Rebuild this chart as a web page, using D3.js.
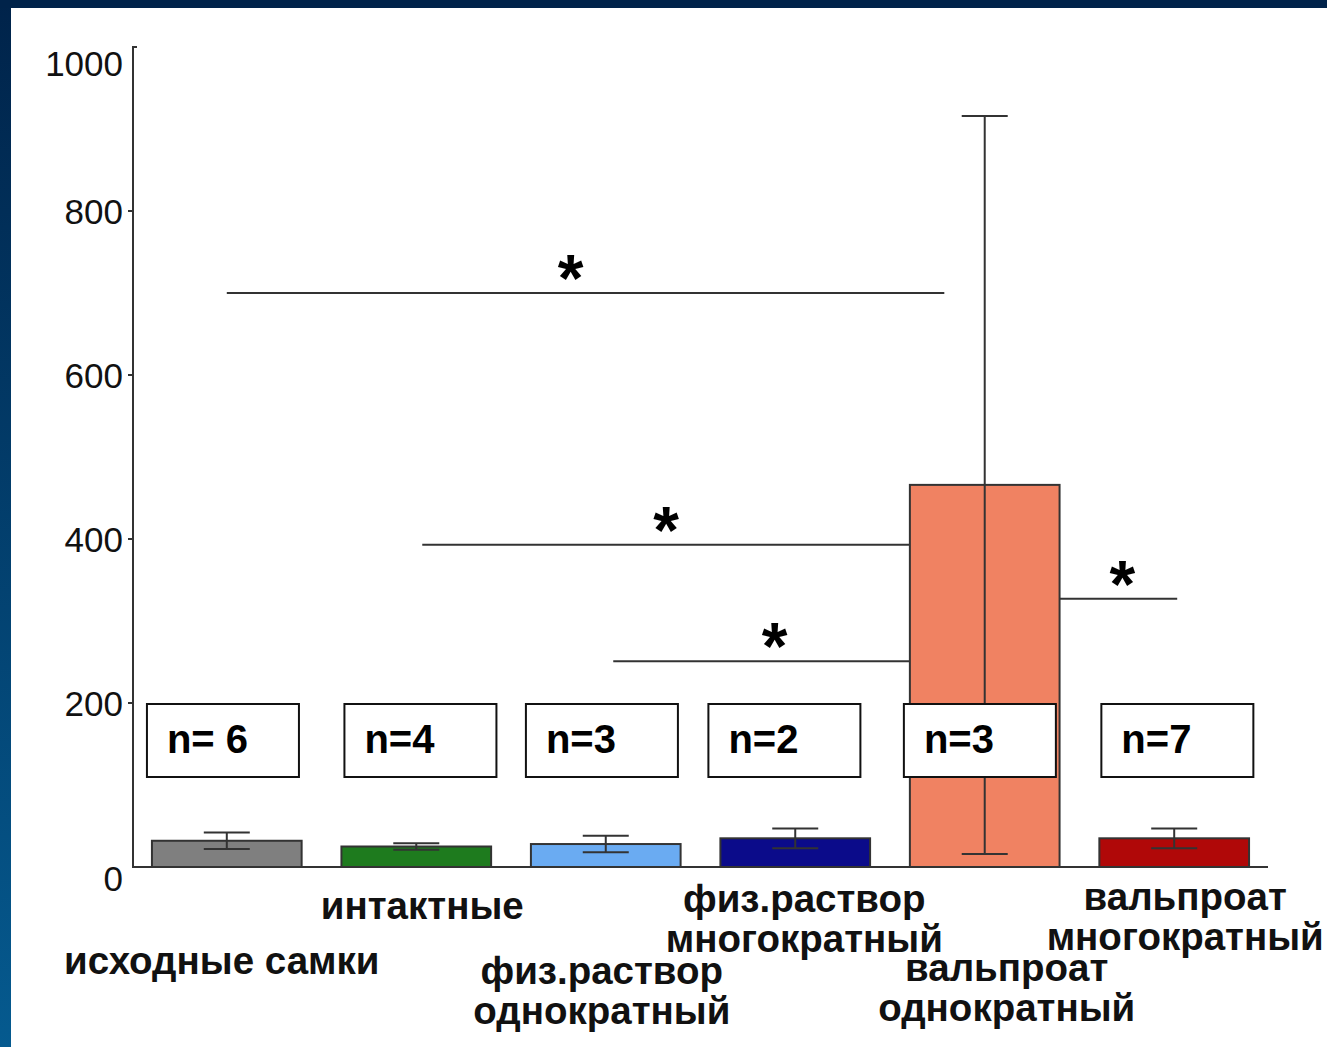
<!DOCTYPE html>
<html><head><meta charset="utf-8">
<script src="https://cdn.jsdelivr.net/npm/d3@7"></script>
<style>html,body{margin:0;padding:0;overflow:hidden;background:#fff}</style>
</head><body><svg id="c" width="1327" height="1047"></svg>
<script>
// ---- data ----
const categories = ["исходные самки", "интактные", "физ.раствор однократный", "физ.раствор многократный", "вальпроат однократный", "вальпроат многократный"];
const categoryLines = [["исходные самки"], ["интактные"], ["физ.раствор", "однократный"], ["физ.раствор", "многократный"], ["вальпроат", "однократный"], ["вальпроат", "многократный"]];
const means = [32, 25, 28, 35, 466, 35];
const errors = [10, 4, 10, 12, 450, 12];
const sampleSizes = ["n= 6", "n=4", "n=3", "n=2", "n=3", "n=7"];
const barColors = ["#7f7f7f", "#1e7b1e", "#6aabf2", "#0b0b8a", "#f08262", "#b00808"];
const yTicks = [0, 200, 400, 600, 800, 1000];
const sigFrom = ["исходные самки", "интактные", "физ.раствор однократный", "вальпроат однократный"];
const sigTo = ["вальпроат однократный", "вальпроат однократный", "вальпроат однократный", "вальпроат многократный"];
const sigValues = [700, 393, 251, 327];
const sigMark = ["*", "*", "*", "*"];

// ---- layout ----
const W = 1327, H = 1047;
const svg = d3.select("#c");
const defs = svg.append("defs");
const lg = defs.append("linearGradient").attr("id", "side").attr("x1", 0).attr("y1", 0).attr("x2", 0).attr("y2", 1);
lg.append("stop").attr("offset", "0%").attr("stop-color", "#00234a");
lg.append("stop").attr("offset", "100%").attr("stop-color", "#055a8f");
svg.append("rect").attr("x", 0).attr("y", 0).attr("width", W).attr("height", H).attr("fill", "url(#side)");
svg.append("rect").attr("x", 0).attr("y", 0).attr("width", W).attr("height", 8).attr("fill", "#00234a");
svg.append("rect").attr("x", 11).attr("y", 8).attr("width", W - 11).attr("height", H - 8).attr("fill", "#ffffff");

const x = d3.scaleBand().domain(categories).range([133, 1268]).paddingInner(0.21).paddingOuter(0.1);
const y = d3.scaleLinear().domain([0, 1000]).range([867, 47]);
const bw = x.bandwidth();
const axisColor = "#333";
const font = "'Liberation Sans', Arial, sans-serif";

// bars
svg.append("g").selectAll("rect").data(categories).join("rect")
  .attr("x", d => x(d)).attr("y", (d, i) => y(means[i]))
  .attr("width", bw).attr("height", (d, i) => y(0) - y(means[i]))
  .attr("fill", (d, i) => barColors[i]).attr("stroke", "#333").attr("stroke-width", 2);

// error bars
const eb = svg.append("g").attr("stroke", "#333").attr("stroke-width", 2);
categories.forEach((c, i) => {
  const cx = x(c) + bw / 2;
  eb.append("line").attr("x1", cx).attr("x2", cx).attr("y1", y(means[i] + errors[i])).attr("y2", y(means[i] - errors[i]));
  [means[i] + errors[i], means[i] - errors[i]].forEach(v => {
    eb.append("line").attr("x1", cx - 23).attr("x2", cx + 23).attr("y1", y(v)).attr("y2", y(v));
  });
});

// axes
const ax = svg.append("g");
ax.append("line").attr("x1", 133).attr("x2", 133).attr("y1", y(1000)).attr("y2", y(0)).attr("stroke", axisColor).attr("stroke-width", 2);
ax.append("line").attr("x1", 132).attr("x2", 1268).attr("y1", y(0)).attr("y2", y(0)).attr("stroke", axisColor).attr("stroke-width", 2);
ax.append("line").attr("x1", 132).attr("x2", 137).attr("y1", y(1000)).attr("y2", y(1000)).attr("stroke", axisColor).attr("stroke-width", 2);
ax.selectAll(".tk").data(yTicks.filter(t => t > 0 && t < 1000)).join("line")
  .attr("x1", 128).attr("x2", 133).attr("y1", d => y(d)).attr("y2", d => y(d)).attr("stroke", axisColor).attr("stroke-width", 2);
ax.selectAll("text").data(yTicks).join("text")
  .attr("x", 123).attr("y", d => y(d) + (d === 1000 ? 16 : d === 0 ? 11 : 0))
  .attr("text-anchor", "end").attr("dominant-baseline", "central")
  .attr("font-family", font).attr("font-size", 35).attr("fill", "#111").text(d => d);

// sample-size boxes
const boxDx = [-5, 3, -5, -12, -6, 2];
const nb = svg.append("g");
categories.forEach((c, i) => {
  const bx = x(c) + boxDx[i];
  nb.append("rect").attr("x", bx).attr("y", 704).attr("width", 152).attr("height", 73)
    .attr("fill", "#fff").attr("stroke", "#111").attr("stroke-width", 2);
  nb.append("text").attr("x", bx + 20).attr("y", 753).attr("font-family", font).attr("font-weight", "bold")
    .attr("font-size", 40).attr("fill", "#000").text(sampleSizes[i]);
});

// significance lines
const sigFracFrom = [0.5, 0.54, 0.55, 1.0];
const sigFracTo = [0.23, 0, 0, 0.52];
const starDx = [-15, 0, 13, 4];
const sg = svg.append("g");
sigValues.forEach((v, i) => {
  const x1 = x(sigFrom[i]) + bw * sigFracFrom[i];
  const x2 = x(sigTo[i]) + bw * sigFracTo[i];
  sg.append("line").attr("x1", x1).attr("x2", x2).attr("y1", y(v)).attr("y2", y(v)).attr("stroke", axisColor).attr("stroke-width", 2);
  sg.append("text").attr("x", (x1 + x2) / 2 + starDx[i]).attr("y", y(v) + 8).attr("text-anchor", "middle")
    .attr("font-family", font).attr("font-weight", "bold").attr("font-size", 66).attr("fill", "#000").text(sigMark[i]);
});

// category labels
const labDx = [-5, 6, -4, 9, 22, 11];
const labY = [974, 919, 984, 912, 981, 910];
const labLH = [0, 0, 40, 40, 40, 40];
const lb = svg.append("g");
categories.forEach((c, i) => {
  categoryLines[i].forEach((t, j) => {
    lb.append("text").attr("x", x(c) + bw / 2 + labDx[i]).attr("y", labY[i] + j * labLH[i])
      .attr("text-anchor", "middle").attr("font-family", font).attr("font-weight", "bold")
      .attr("font-size", 38.5).attr("fill", "#111").text(t);
  });
});
</script>
</body></html>
